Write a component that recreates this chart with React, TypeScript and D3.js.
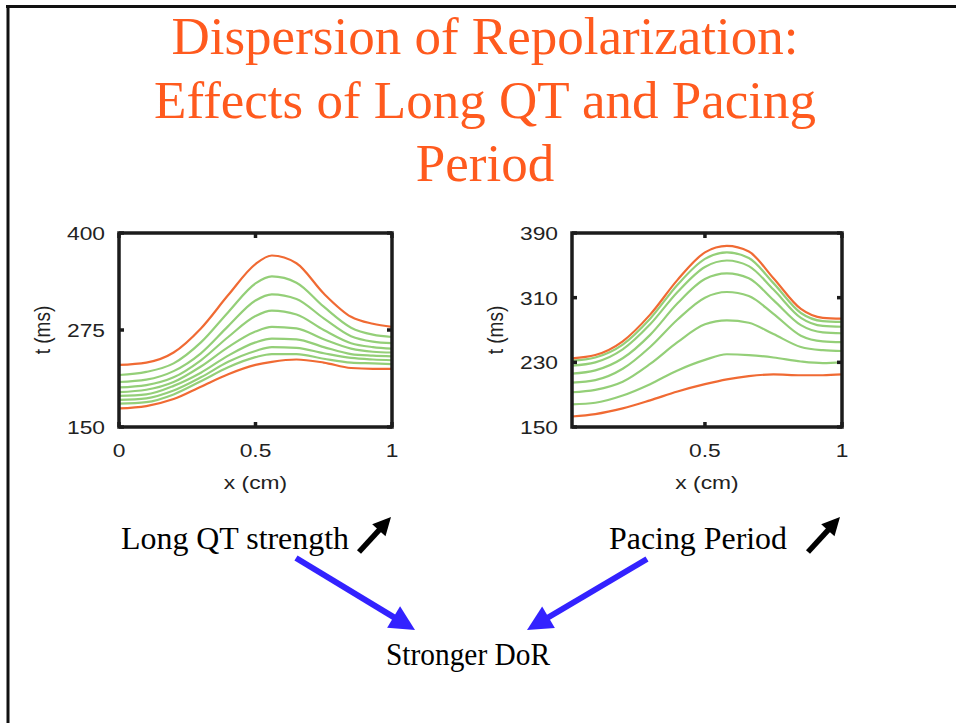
import React from "react";
import * as d3 from "d3";

// x grids (cm)
const xLongQT = [0, 0.1, 0.2, 0.3, 0.4, 0.5, 0.56, 0.65, 0.75, 0.85, 0.93, 1];
const xPacing = [0.015, 0.1, 0.2, 0.3, 0.4, 0.5, 0.58, 0.66, 0.75, 0.85, 0.93, 1];

// left panel: long QT strength (ms)
const qtTop = [230, 233, 246, 277, 320, 360, 371, 361, 322, 292, 283, 279];
const qtG1 = [217, 221, 232, 259, 298, 335, 344, 336, 305, 278, 269, 266];
const qtG2 = [208, 211, 222, 245, 280, 313, 321, 315, 290, 267, 260, 258];
const qtG3 = [201, 204, 214, 236, 266, 293, 300, 295, 275, 258, 253, 251];
const qtG4 = [195, 198, 208, 228, 253, 273, 279, 277, 263, 251, 247, 246];
const qtG5 = [190, 192, 203, 220, 242, 259, 264, 263, 253, 244, 242, 241];
const qtG6 = [185, 187, 197, 214, 234, 248, 253, 252, 245, 239, 237, 236];
const qtG7 = [180, 182, 192, 209, 227, 240, 244, 244, 238, 233, 232, 231];
const qtBottom = [174, 177, 186, 202, 218, 230, 234, 237, 233, 226, 225, 225];

// right panel: pacing period (ms)
const pTop = [235, 239, 256, 289, 332, 366, 374, 367, 334, 296, 285, 284];
const pG1 = [232, 236, 252, 284, 326, 358, 366, 359, 328, 291, 281, 280];
const pG2 = [226, 230, 246, 277, 317, 348, 356, 349, 320, 285, 275, 274];
const pG3 = [216, 220, 235, 264, 303, 333, 340, 334, 307, 276, 267, 266];
const pG4 = [205, 208, 222, 249, 283, 310, 317, 312, 290, 263, 256, 255];
const pG5 = [193, 196, 206, 228, 255, 277, 282, 279, 265, 249, 245, 244];
const pG6 = [178, 180, 189, 203, 220, 233, 240, 239, 236, 231, 229, 230];
const pBottom = [163, 166, 173, 183, 194, 203, 209, 213, 215, 214, 214, 215];

const qtYTicks = [150, 275, 400];
const qtXTicks = [0, 0.5, 1];
const pYTicks = [150, 230, 310, 390];
const pXTicks = [0.5, 1];

const titleLines = ["Dispersion of Repolarization:", "Effects of Long QT and Pacing", "Period"];

const ORANGE = "#f06a33";
const GREEN = "#94cf78";
const TITLE = "#ff5a1e";
const SANS = "'Liberation Sans', Arial, Helvetica, sans-serif";
const SERIF = "'Liberation Serif', 'Times New Roman', Times, serif";

type Box = { x0: number; x1: number; y0: number; y1: number };

function Panel(props: {
  id: string;
  box: Box;
  xs: number[];
  top: number[];
  greens: number[][];
  bottom: number[];
  xDomain: [number, number];
  yDomain: [number, number];
  xTicks: number[];
  yTicks: number[];
}) {
  const { id, box, xs, top, greens, bottom, xDomain, yDomain, xTicks, yTicks } = props;
  const x = d3.scaleLinear().domain(xDomain).range([box.x0, box.x1]);
  const y = d3.scaleLinear().domain(yDomain).range([box.y1, box.y0]);
  const line = d3
    .line<number>()
    .x((_, i) => x(xs[i]))
    .y(d => y(d))
    .curve(d3.curveMonotoneX);
  const cx = (box.x0 + box.x1) / 2;
  const cy = (box.y0 + box.y1) / 2;

  return (
    <g>
      <defs>
        <clipPath id={id}>
          <rect x={box.x0} y={box.y0} width={box.x1 - box.x0} height={box.y1 - box.y0} />
        </clipPath>
      </defs>
      <g clipPath={`url(#${id})`} fill="none" strokeWidth={2.2}>
        {greens.map((g, i) => (
          <path key={i} d={line(g) || ""} stroke={GREEN} />
        ))}
        <path d={line(bottom) || ""} stroke={ORANGE} />
        <path d={line(top) || ""} stroke={ORANGE} />
      </g>
      <rect
        x={box.x0}
        y={box.y0}
        width={box.x1 - box.x0}
        height={box.y1 - box.y0}
        fill="none"
        stroke="#1c1c1c"
        strokeWidth={3.5}
      />
      {xTicks.map(t => (
        <g key={"xt" + t}>
          <line x1={x(t)} x2={x(t)} y1={box.y0} y2={box.y0 + 5} stroke="#1c1c1c" strokeWidth={3.5} />
          <line x1={x(t)} x2={x(t)} y1={box.y1} y2={box.y1 - 5} stroke="#1c1c1c" strokeWidth={3.5} />
          <text
            transform={`translate(${x(t)},${box.y1 + 30}) scale(1.2,1)`}
            textAnchor="middle"
            fontFamily={SANS}
            fontSize={19}
            fill="#222"
          >
            {String(t)}
          </text>
        </g>
      ))}
      {yTicks.map(t => (
        <g key={"yt" + t}>
          <line x1={box.x0} x2={box.x0 + 5} y1={y(t)} y2={y(t)} stroke="#1c1c1c" strokeWidth={3.5} />
          <line x1={box.x1} x2={box.x1 - 5} y1={y(t)} y2={y(t)} stroke="#1c1c1c" strokeWidth={3.5} />
          <text
            transform={`translate(${box.x0 - 14},${y(t)}) scale(1.2,1)`}
            textAnchor="end"
            dy="0.36em"
            fontFamily={SANS}
            fontSize={19}
            fill="#222"
          >
            {t}
          </text>
        </g>
      ))}
      <text
        transform={`translate(${cx},${box.y1 + 62}) scale(1.2,1)`}
        textAnchor="middle"
        fontFamily={SANS}
        fontSize={19}
        fill="#222"
      >
        x (cm)
      </text>
      <text
        transform={`translate(${box.x0 - 77},${cy}) scale(1.2,1) rotate(-90)`}
        textAnchor="middle"
        dy="0.35em"
        fontFamily={SANS}
        fontSize={19}
        fill="#222"
      >
        t (ms)
      </text>
    </g>
  );
}

function Arrow(props: { x1: number; y1: number; x2: number; y2: number; color: string; width: number; head: number }) {
  const { x1, y1, x2, y2, color, width, head } = props;
  const a = Math.atan2(y2 - y1, x2 - x1);
  const bx = x2 - head * Math.cos(a);
  const by = y2 - head * Math.sin(a);
  const hw = head * 0.5;
  const px = -Math.sin(a) * hw;
  const py = Math.cos(a) * hw;
  return (
    <g>
      <line x1={x1} y1={y1} x2={bx + Math.cos(a) * 2} y2={by + Math.sin(a) * 2} stroke={color} strokeWidth={width} />
      <polygon points={`${x2},${y2} ${bx + px},${by + py} ${bx - px},${by - py}`} fill={color} />
    </g>
  );
}

export default function App() {
  const leftBox: Box = { x0: 119, x1: 392, y0: 233, y1: 427 };
  const rightBox: Box = { x0: 572, x1: 842, y0: 233, y1: 427 };

  return (
    <svg
      width={956}
      height={723}
      style={{ position: "absolute", left: 0, top: 0, background: "#fff" }}
    >
      <rect x={0} y={0} width={956} height={723} fill="#fff" />
      {/* slide frame */}
      <line x1={6} y1={6.5} x2={956} y2={6.5} stroke="#111" strokeWidth={3} />
      <line x1={8} y1={5} x2={8} y2={723} stroke="#111" strokeWidth={3} />

      {titleLines.map((t, i) => (
        <text
          key={i}
          x={485}
          y={54 + i * 63.5}
          textAnchor="middle"
          fontFamily={SERIF}
          fontSize={53}
          fill={TITLE}
        >
          {t}
        </text>
      ))}

      <Panel
        id="clipQT"
        box={leftBox}
        xs={xLongQT}
        top={qtTop}
        greens={[qtG1, qtG2, qtG3, qtG4, qtG5, qtG6, qtG7]}
        bottom={qtBottom}
        xDomain={[0, 1]}
        yDomain={[150, 400]}
        xTicks={qtXTicks}
        yTicks={qtYTicks}
      />
      <Panel
        id="clipPace"
        box={rightBox}
        xs={xPacing}
        top={pTop}
        greens={[pG1, pG2, pG3, pG4, pG5, pG6]}
        bottom={pBottom}
        xDomain={[0.015, 1]}
        yDomain={[150, 390]}
        xTicks={pXTicks}
        yTicks={pYTicks}
      />

      <text x={121} y={549} fontFamily={SERIF} fontSize={31} fill="#000" textLength={228} lengthAdjust="spacingAndGlyphs">
        Long QT strength
      </text>
      <text x={609} y={549} fontFamily={SERIF} fontSize={31} fill="#000" textLength={178} lengthAdjust="spacingAndGlyphs">
        Pacing Period
      </text>
      <text x={386} y={665} fontFamily={SERIF} fontSize={31} fill="#000" textLength={164} lengthAdjust="spacingAndGlyphs">
        Stronger DoR
      </text>

      <Arrow x1={359} y1={552} x2={391} y2={517} color="#000" width={5.5} head={18} />
      <Arrow x1={808} y1={552} x2={840} y2={517} color="#000" width={5.5} head={18} />
      <Arrow x1={296} y1={558} x2={415} y2={630} color="#3322ff" width={6} head={25} />
      <Arrow x1={647} y1={559} x2={527} y2={630} color="#3322ff" width={6} head={25} />
    </svg>
  );
}
